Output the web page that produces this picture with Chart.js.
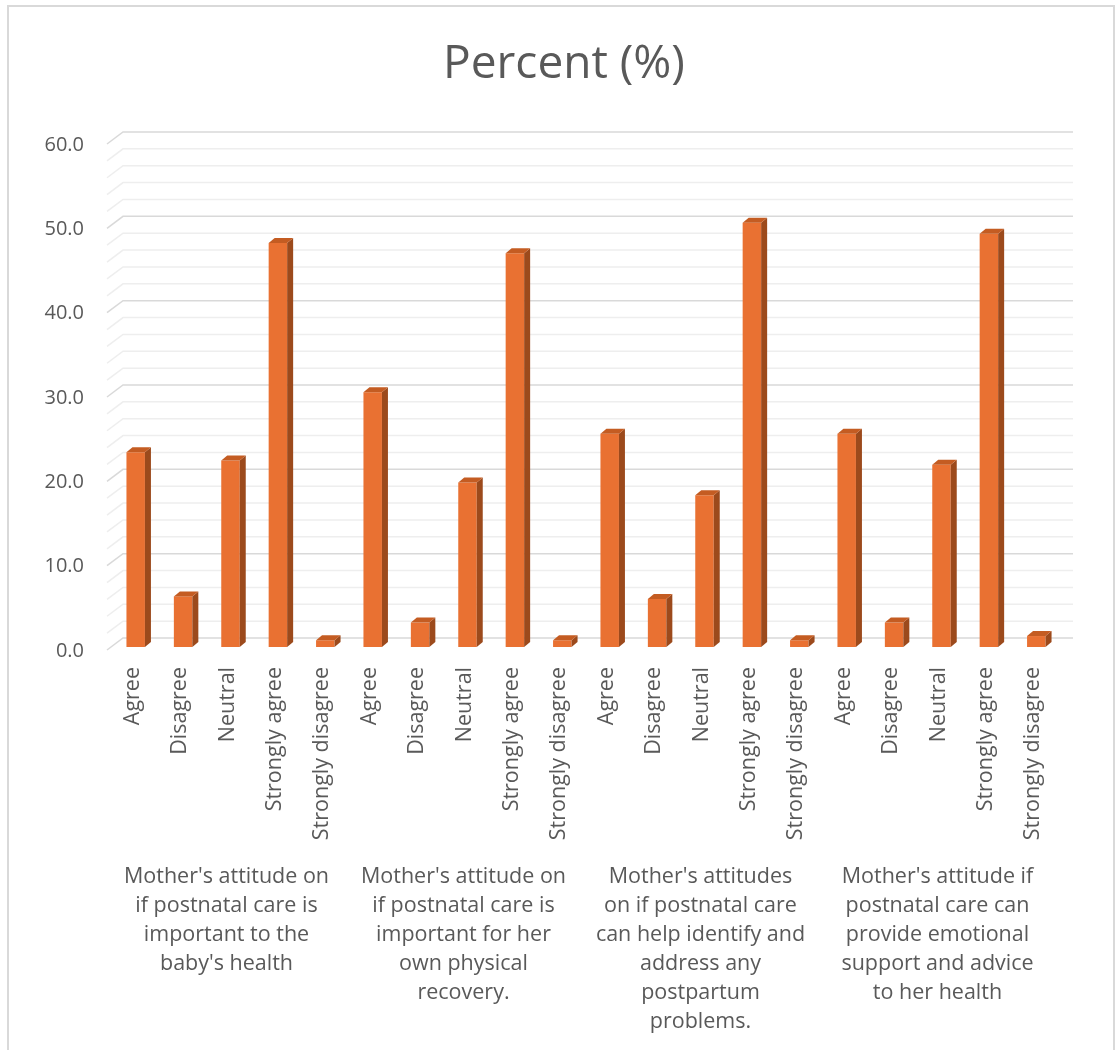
<!DOCTYPE html>
<html>
<head>
<meta charset="utf-8">
<script src="https://cdn.jsdelivr.net/npm/chart.js@4"></script>
<style>
  html, body { margin: 0; padding: 0; background: #fff; }
  #wrap { width: 1116px; height: 1050px; }
</style>
</head>
<body>
<div id="wrap"><canvas id="percentChart" width="1116" height="1050"></canvas></div>
<script>
// answer options, repeated for each statement
const responses = ["Agree", "Disagree", "Neutral", "Strongly agree", "Strongly disagree"];

const groupLabels = [
  ["Mother's attitude on", "if postnatal care is", "important to the", "baby's health"],
  ["Mother's attitude on", "if postnatal care is", "important for her", "own physical", "recovery."],
  ["Mother's attitudes", "on if postnatal care", "can help identify and", "address any", "postpartum", "problems."],
  ["Mother's attitude if", "postnatal care can", "provide emotional", "support and advice", "to her health"],
];

// percent per statement (Agree, Disagree, Neutral, Strongly agree, Strongly disagree)
const babyHealth = [23.1, 6.0, 22.1, 47.9, 0.8];
const physicalRecovery = [30.2, 2.9, 19.5, 46.7, 0.8];
const postpartumProblems = [25.3, 5.7, 18.0, 50.3, 0.8];
const emotionalSupport = [25.3, 2.9, 21.6, 49.0, 1.3];

const yTicks = [0, 10, 20, 30, 40, 50, 60];

const labels = [].concat(responses, responses, responses, responses);
const values = [].concat(babyHealth, physicalRecovery, postpartumProblems, emotionalSupport);

const textColor = "#595959";
const fontFamily = "'Open Sans', sans-serif";

// depth of the fake 3d look
const DEPTH_X = 6, DEPTH_Y = 5;

// back wall grid + depth lines, drawn before bars
const wallGrid = {
  id: "wallGrid",
  beforeDatasetsDraw(chart) {
    const { ctx, chartArea, scales } = chart;
    const y = scales.y;
    ctx.save();
    ctx.lineWidth = 1.5;
    for (let v = 0; v <= 60; v += 2) {
      const py = y.getPixelForValue(v);
      const major = v % 10 === 0;
      ctx.strokeStyle = major ? "#d9d9d9" : "#eeeeee";
      ctx.beginPath();
      ctx.moveTo(chartArea.left - 5, py + 3);
      ctx.lineTo(chartArea.left + 11, py - 9);
      ctx.lineTo(chartArea.right + 13, py - 9);
      ctx.stroke();
    }
    ctx.restore();
  },
};

// side + top faces of each column
const bar3d = {
  id: "bar3d",
  afterDatasetsDraw(chart) {
    const { ctx } = chart;
    const meta = chart.getDatasetMeta(0);
    ctx.save();
    meta.data.forEach((bar) => {
      const half = bar.width / 2;
      const l = bar.x - half, r = bar.x + half, t = bar.y, b = bar.base;
      ctx.fillStyle = "#9c4a1c";
      ctx.beginPath();
      ctx.moveTo(r, t);
      ctx.lineTo(r + DEPTH_X, t - DEPTH_Y);
      ctx.lineTo(r + DEPTH_X, b - DEPTH_Y);
      ctx.lineTo(r, b);
      ctx.closePath();
      ctx.fill();
      ctx.fillStyle = "#c45c22";
      ctx.beginPath();
      ctx.moveTo(l, t);
      ctx.lineTo(l + DEPTH_X, t - DEPTH_Y);
      ctx.lineTo(r + DEPTH_X, t - DEPTH_Y);
      ctx.lineTo(r, t);
      ctx.closePath();
      ctx.fill();
    });
    ctx.restore();
  },
};

const frame = {
  id: "frame",
  beforeDraw(chart) {
    const { ctx } = chart;
    ctx.save();
    ctx.fillStyle = "#fff";
    ctx.fillRect(0, 0, chart.width, chart.height);
    ctx.strokeStyle = "#d9d9d9";
    ctx.lineWidth = 2;
    ctx.beginPath();
    ctx.moveTo(8, 1050);
    ctx.lineTo(8, 6);
    ctx.lineTo(1114, 6);
    ctx.lineTo(1114, 1050);
    ctx.stroke();
    ctx.restore();
  },
};

const ctx = document.getElementById("percentChart").getContext("2d");
const percentChart = new Chart(ctx, {
  type: "bar",
  data: {
    labels: labels,
    datasets: [
      {
        label: "Percent (%)",
        data: values,
        backgroundColor: "#e97132",
        barPercentage: 0.78,
        categoryPercentage: 0.5,
        xAxisID: "x",
      },
    ],
  },
  options: {
    responsive: false,
    animation: false,
    layout: { padding: { left: 12, right: 0, top: 0, bottom: 0 } },
    plugins: {
      legend: { display: false },
      tooltip: { enabled: false },
      title: {
        display: true,
        text: "Percent (%)",
        color: textColor,
        font: { family: fontFamily, size: 46, weight: "normal", lineHeight: 1.2 },
        padding: { top: 37.4, bottom: 48.4 },
      },
    },
    scales: {
      y: {
        min: 0,
        max: 60,
        afterBuildTicks(scale) {
          scale.ticks = yTicks.map((v) => ({ value: v }));
        },
        afterFit(scale) {
          scale.width = 100;
        },
        grid: { display: false, drawTicks: false },
        border: { display: false },
        ticks: {
          padding: 28,
          labelOffset: 4,
          color: textColor,
          font: { family: fontFamily, size: 20 },
          callback: (v) => Number(v).toFixed(1),
        },
      },
      // empty right axis, only keeps space on the right side
      yRight: {
        position: "right",
        min: 0,
        max: 60,
        afterFit(scale) {
          scale.width = 56;
        },
        grid: { display: false, drawTicks: false },
        border: { display: false },
        ticks: { display: false },
      },
      x: {
        weight: 0,
        afterFit(scale) {
          scale.height = 215;
        },
        grid: { display: false, drawTicks: false },
        border: { display: false },
        ticks: {
          autoSkip: false,
          minRotation: 90,
          maxRotation: 90,
          padding: 20,
          labelOffset: -3,
          color: textColor,
          font: { family: fontFamily, size: 21.5 },
        },
      },
      x2: {
        type: "category",
        position: "bottom",
        weight: 1,
        labels: groupLabels,
        offset: true,
        afterFit(scale) {
          scale.height = 188;
        },
        grid: { display: false, drawTicks: false },
        border: { display: false },
        ticks: {
          autoSkip: false,
          maxRotation: 0,
          minRotation: 0,
          padding: 0,
          labelOffset: -4,
          color: textColor,
          font: { family: fontFamily, size: 21.5, lineHeight: 1.35 },
        },
      },
    },
  },
  plugins: [frame, wallGrid, bar3d],
});
</script>
</body>
</html>
